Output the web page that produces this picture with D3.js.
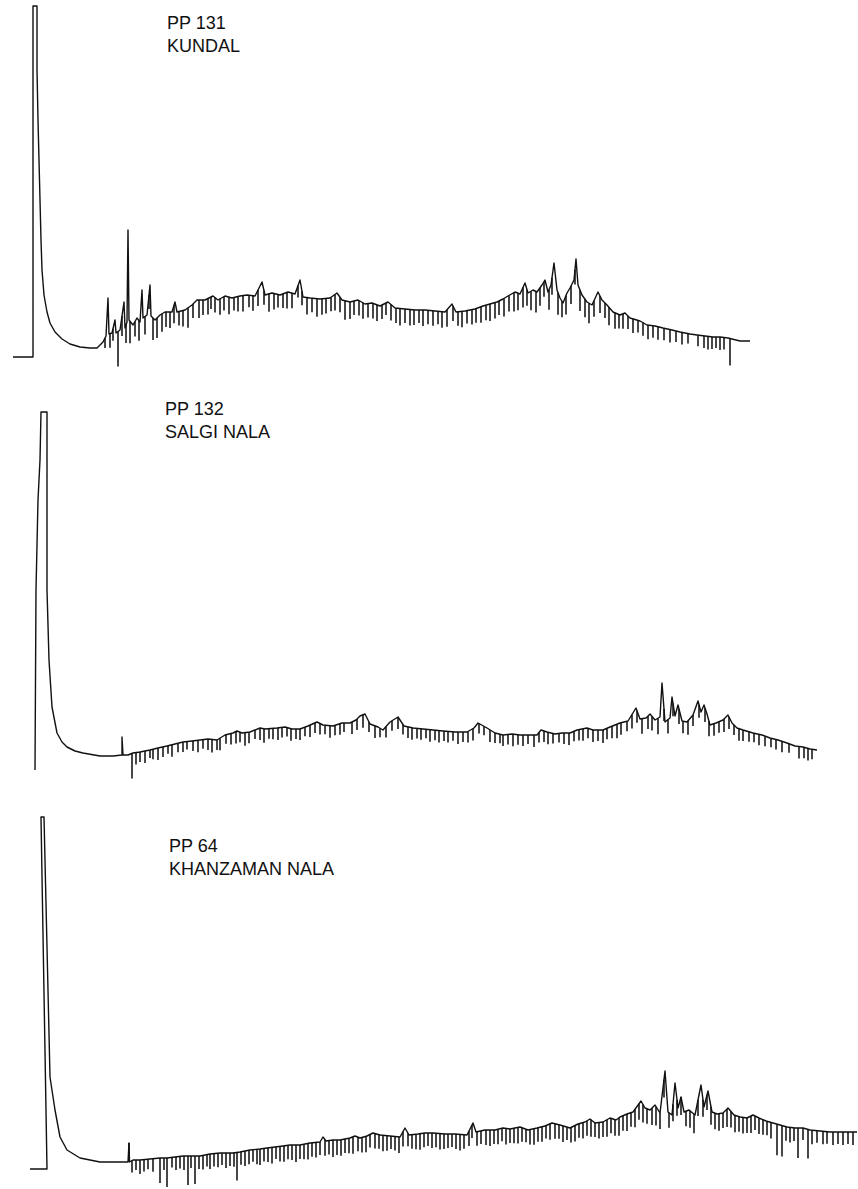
<!DOCTYPE html>
<html>
<head>
<meta charset="utf-8">
<script src="https://cdn.jsdelivr.net/npm/d3@7"></script>
<style>
  body { margin: 0; background: #fff; }
  text { font-family: "Liberation Sans", Arial, sans-serif; }
</style>
</head>
<body>
<script>
// Setup variables
const width = 858;
const height = 1189;

// Sample labels
const sampleCodes = ["PP 131", "PP 132", "PP 64"];
const sampleSites = ["KUNDAL", "SALGI NALA", "KHANZAMAN NALA"];

// Trace of each chromatogram: [retention time (min), detector response]
const trace131 = [
  [1.3,1],[3.3,1],[3.3,352],[3.7,352],[3.7,288],[3.8,238],[3.9,198],[4.0,158],[4.1,118],[4.2,88],
  [4.4,63],[4.7,46],[5.0,35],[5.5,26],[6.2,19],[7.0,14],[8.0,11],[9.0,10],[9.7,10],[10.0,13],
  [10.3,16],[10.6,22],[10.8,60],[10.9,24],[11.2,25],[11.5,38],[11.6,25],[12.0,28],[12.4,56],[12.5,30],
  [12.7,36],[12.8,128],[12.9,38],[13.3,33],[13.7,40],[14.0,36],[14.2,68],[14.3,40],[14.7,43],[15.0,73],
  [15.1,42],[15.5,38],[16.0,43],[16.5,46],[17.2,46],[17.5,56],[17.7,46],[18.5,48],[19.2,53],[19.7,58],
  [20.5,58],[21.3,62],[21.8,58],[22.5,62],[23.2,60],[24.0,62],[24.7,63],[25.5,62],[26.2,76],[26.5,63],
  [27.2,65],[28.0,63],[28.8,66],[29.5,64],[30.0,78],[30.3,61],[31.0,60],[32.0,59],[33.0,60],[33.7,65],
  [34.2,58],[35.0,56],[35.8,58],[36.5,54],[37.2,55],[38.0,52],[38.8,56],[39.5,50],[40.5,49],[41.5,48],
  [42.5,48],[43.5,47],[44.5,46],[45.2,54],[45.6,46],[46.5,47],[47.5,49],[48.3,52],[49.0,54],[49.7,56],
  [50.3,59],[50.8,62],[51.5,66],[52.0,64],[52.5,75],[52.8,65],[53.3,68],[53.7,66],[54.2,73],[54.5,78],
  [54.8,66],[55.1,73],[55.4,95],[55.7,68],[56.0,60],[56.3,55],[56.7,65],[57.0,70],[57.4,78],[57.6,99],
  [57.8,73],[58.2,63],[58.7,56],[59.2,53],[59.8,66],[60.2,58],[60.7,53],[61.3,46],[62.0,43],[62.5,45],
  [63.0,40],[64.0,37],[64.7,33],[65.5,32],[66.3,30],[67.2,28],[68.0,26],[69.0,24],[69.7,23],[70.5,22],
  [71.3,21],[72.0,21],[72.8,20],[73.2,19],[74.0,17],[75.0,17]
];
const trace132 = [
  [3.5,0],[3.6,180],[3.8,270],[4.0,310],[4.1,358],[4.7,358],[4.7,180],[4.9,110],[5.2,63],[5.7,37],
  [6.2,28],[6.7,23],[7.5,19],[8.3,17],[10.0,14],[11.3,14],[12.2,15],[12.2,33],[12.3,15],[12.8,15],
  [13.3,17],[14.0,18],[15.0,20],[15.8,22],[16.7,24],[17.5,26],[18.3,28],[19.2,29],[20.0,30],[20.8,31],
  [21.7,30],[22.5,35],[23.3,37],[23.7,39],[24.2,37],[25.0,38],[26.0,42],[26.5,41],[27.7,42],[28.5,43],
  [29.2,41],[30.0,41],[30.8,44],[31.7,48],[32.3,45],[33.3,44],[34.2,47],[35.0,47],[35.6,50],[36.0,54],
  [36.5,56],[37.0,46],[37.8,43],[38.3,40],[39.0,48],[39.8,53],[40.4,44],[41.3,42],[42.3,41],[43.3,40],
  [44.3,39],[45.5,38],[46.7,38],[47.4,42],[47.8,47],[48.7,42],[49.5,37],[50.3,35],[51.2,36],[52.0,35],
  [53.0,35],[53.7,35],[54.1,40],[54.7,38],[55.5,36],[56.2,37],[57.0,37],[57.7,40],[58.7,42],[59.3,40],
  [60.3,40],[61.0,43],[62.0,47],[62.8,49],[63.6,62],[64.0,51],[64.6,52],[65.0,56],[65.5,50],[66.0,53],
  [66.2,87],[66.5,48],[67.0,52],[67.2,73],[67.5,54],[67.8,65],[68.2,49],[68.7,48],[69.3,55],[69.8,69],
  [70.1,58],[70.4,65],[70.7,56],[71.0,45],[71.6,47],[72.3,50],[72.8,55],[73.2,47],[73.7,42],[74.3,40],
  [75.3,37],[76.2,35],[77.0,32],[77.8,30],[78.7,27],[79.5,24],[80.3,23],[81.0,21],[81.7,20]
];
const trace64 = [
  [3.0,1],[4.2,1],[4.7,1],[4.1,353],[4.4,353],[5.0,93],[5.5,60],[6.0,33],[6.7,20],[8.0,12],
  [10.0,8],[12.8,8],[12.9,27],[12.95,8],[13.3,10],[14.0,10],[15.0,11],[16.0,12],[16.7,12],[17.5,13],
  [18.3,14],[19.2,14],[20.0,14],[21.0,16],[22.0,17],[23.3,17],[24.0,18],[25.0,20],[26.0,21],[26.7,22],
  [27.5,23],[28.3,24],[29.0,25],[30.0,25],[31.0,27],[32.0,28],[32.3,33],[32.6,29],[33.3,30],[34.0,30],
  [35.0,32],[35.5,34],[36.0,32],[36.7,34],[37.3,37],[38.0,35],[39.0,34],[40.0,33],[40.5,42],[40.9,35],
  [41.8,36],[42.5,37],[43.3,37],[44.5,36],[45.5,36],[46.7,35],[47.3,47],[47.6,38],[48.5,40],[49.5,40],
  [50.3,42],[51.0,41],[52.0,43],[52.8,40],[53.7,42],[54.5,44],[55.2,47],[56.0,45],[57.0,42],[57.8,46],
  [58.5,48],[59.0,51],[59.5,47],[60.3,48],[61.0,52],[61.6,50],[62.0,53],[62.7,56],[63.3,58],[64.1,69],
  [64.5,62],[65.0,60],[65.5,65],[66.0,57],[66.5,99],[66.8,58],[67.2,55],[67.5,87],[67.8,62],[68.1,73],
  [68.4,58],[68.9,60],[69.5,55],[70.1,85],[70.4,63],[70.8,79],[71.2,58],[71.7,56],[72.3,57],[72.8,62],
  [73.4,55],[74.0,53],[74.7,52],[75.3,55],[75.9,52],[76.6,49],[77.3,47],[78.0,45],[78.7,43],[79.5,42],
  [80.3,42],[81.0,40],[82.0,39],[83.0,38],[84.0,38],[85.7,38]
];

// Integrator marks hanging below the trace: [retention time (min), mark length]
const marks131 = [
  [10.5,10],[11.0,14],[11.3,12],[11.8,35],[12.2,20],[12.6,18],[13.0,22],[13.5,15],[13.9,20],[14.5,18],
  [14.9,14],[15.3,22],[15.7,20],[16.2,18],[16.6,15],[17.0,16],[17.4,18],[17.9,14],[18.3,16],[18.8,20],
  [19.3,14],[19.9,18],[20.3,15],[20.8,16],[21.1,12],[21.5,15],[22.0,16],[22.4,14],[22.9,17],[23.4,13],
  [23.8,15],[24.3,16],[24.9,12],[25.3,15],[25.8,16],[26.4,14],[26.9,18],[27.4,16],[27.8,13],[28.3,14],
  [28.7,16],[29.2,15],[29.8,12],[30.2,14],[30.7,17],[31.2,14],[31.7,18],[32.2,16],[32.6,15],[33.1,14],
  [33.5,16],[34.0,15],[34.5,19],[35.0,17],[35.4,14],[35.9,15],[36.3,16],[36.8,14],[37.3,15],[37.7,16],
  [38.2,14],[38.6,12],[39.1,16],[39.6,15],[40.0,17],[40.5,14],[41.0,16],[41.4,15],[41.9,13],[42.3,16],
  [42.8,14],[43.3,15],[43.8,13],[44.2,16],[44.7,17],[45.3,15],[45.8,14],[46.2,16],[46.7,13],[47.2,15],
  [47.6,14],[48.1,16],[48.6,15],[49.0,17],[49.5,16],[49.9,14],[50.4,18],[50.9,16],[51.4,19],[51.8,17],
  [52.3,20],[52.7,16],[53.1,19],[53.6,21],[54.0,18],[54.4,15],[54.9,20],[55.2,17],[55.8,22],[56.2,16],
  [56.6,19],[57.1,18],[57.5,15],[58.0,21],[58.5,18],[58.9,20],[59.4,16],[60.0,17],[60.5,15],[60.9,18],
  [61.5,16],[61.9,14],[62.3,15],[62.8,13],[63.3,14],[63.8,12],[64.3,13],[64.8,14],[65.3,12],[65.8,13],
  [66.4,12],[67.0,13],[67.6,11],[68.2,12],[68.8,10],[69.8,11],[70.4,12],[70.8,13],[71.2,12],[71.6,11],
  [72.0,13],[72.4,12],[73.0,27]
];
const marks132 = [
  [13.2,25],[13.6,12],[14.0,10],[14.5,12],[15.0,8],[15.3,10],[15.8,12],[16.3,10],[16.8,8],[17.2,12],
  [17.8,9],[18.3,10],[18.7,8],[19.3,10],[19.8,12],[20.3,9],[20.8,11],[21.2,13],[21.7,10],[22.0,12],
  [22.6,9],[23.1,11],[23.6,12],[24.0,10],[24.5,13],[24.9,11],[25.5,9],[26.0,12],[26.4,14],[26.9,10],
  [27.3,11],[27.8,12],[28.2,10],[28.7,9],[29.1,12],[29.6,10],[30.0,11],[30.5,9],[31.0,12],[31.5,10],
  [32.0,11],[32.5,9],[33.0,12],[33.5,10],[34.0,11],[34.4,9],[35.2,12],[35.7,11],[36.3,13],[36.9,10],
  [37.5,12],[38.0,9],[38.6,11],[39.2,10],[39.8,12],[40.3,10],[40.8,11],[41.2,12],[41.7,10],[42.1,11],
  [42.6,9],[43.0,12],[43.5,10],[43.9,12],[44.4,10],[44.8,11],[45.3,9],[45.8,12],[46.3,10],[46.8,11],
  [47.3,12],[47.9,10],[48.4,9],[49.0,12],[49.5,10],[50.0,9],[50.3,11],[50.8,10],[51.3,12],[51.8,10],
  [52.3,11],[52.8,9],[53.4,12],[53.9,10],[54.4,11],[54.8,12],[55.3,10],[55.9,9],[56.4,11],[56.9,12],
  [57.4,10],[57.9,11],[58.3,12],[58.8,10],[59.3,12],[59.8,11],[60.3,13],[60.7,11],[61.2,12],[61.7,14],
  [62.1,12],[62.7,10],[63.2,14],[63.7,12],[64.2,15],[64.8,13],[65.2,14],[65.8,16],[66.4,12],[66.8,14],
  [67.3,13],[67.9,15],[68.3,12],[68.8,14],[69.3,11],[69.9,13],[70.5,14],[70.9,15],[71.4,12],[71.9,11],
  [72.4,13],[72.9,12],[73.4,10],[73.9,12],[74.3,11],[74.9,10],[75.4,9],[75.9,11],[76.5,10],[77.1,9],
  [77.6,10],[78.2,11],[78.9,9],[79.9,12],[80.4,11],[80.8,12],[81.2,10]
];
const marks64 = [
  [12.9,17],[13.2,12],[13.6,10],[14.0,14],[14.4,12],[14.8,10],[15.3,13],[16.0,25],[16.4,12],[16.7,29],
  [17.2,10],[17.6,13],[18.0,12],[18.4,14],[18.8,29],[19.1,12],[19.5,28],[19.9,13],[20.3,14],[20.7,12],
  [21.0,15],[21.4,13],[21.8,14],[22.2,12],[22.6,15],[23.0,13],[23.4,14],[23.7,28],[24.1,13],[24.5,15],
  [24.9,14],[25.3,12],[25.7,15],[26.0,16],[26.4,13],[26.8,14],[27.2,16],[27.6,12],[28.0,15],[28.4,16],
  [28.8,14],[29.2,15],[29.6,17],[30.0,14],[30.4,15],[30.8,16],[31.2,14],[31.6,15],[32.0,13],[32.5,16],
  [32.9,14],[33.3,17],[33.7,15],[34.1,16],[34.5,14],[34.9,15],[35.3,17],[35.8,14],[36.2,15],[36.6,16],
  [37.0,13],[37.5,15],[37.9,14],[38.3,16],[38.7,15],[39.1,13],[39.5,14],[39.9,16],[40.3,15],[40.8,13],
  [41.2,14],[41.6,15],[42.0,16],[42.4,14],[42.8,13],[43.2,15],[43.6,14],[44.0,16],[44.4,15],[44.8,14],
  [45.2,13],[45.6,15],[46.0,16],[46.4,14],[46.9,15],[47.2,13],[47.7,14],[48.1,13],[48.6,15],[49.0,16],
  [49.4,14],[49.8,15],[50.2,13],[50.6,16],[51.0,14],[51.4,15],[51.8,16],[52.2,14],[52.6,13],[53.0,15],
  [53.4,16],[53.8,14],[54.2,15],[54.6,13],[55.0,16],[55.5,15],[55.9,14],[56.3,16],[56.7,13],[57.1,15],
  [57.5,16],[57.9,14],[58.3,16],[58.7,15],[59.1,17],[59.5,14],[59.9,16],[60.3,15],[60.7,17],[61.1,15],
  [61.5,16],[61.9,18],[62.3,15],[62.7,17],[63.1,14],[63.5,18],[63.9,16],[64.3,18],[64.7,15],[65.2,17],
  [65.6,19],[66.0,16],[66.4,18],[66.9,15],[67.3,17],[67.7,16],[68.1,18],[68.6,15],[69.0,17],[69.4,19],
  [69.8,16],[70.3,17],[70.7,15],[71.1,18],[71.5,16],[71.9,17],[72.3,15],[72.7,18],[73.1,16],[73.5,17],
  [73.9,15],[74.3,16],[74.7,15],[75.1,17],[75.5,14],[75.9,16],[76.3,15],[76.7,14],[77.1,16],[77.7,31],
  [78.2,31],[78.6,14],[79.0,15],[79.4,13],[79.8,30],[80.3,12],[80.8,29],[81.2,14],[81.7,12],[82.3,13],
  [82.7,12],[83.3,13],[83.8,12],[84.3,13],[84.8,12],[85.3,13]
];

const traces = [trace131, trace132, trace64];
const marks = [marks131, marks132, marks64];

// Layout of the three stacked panels (zero line in pixels, label position)
const panelBase = [358, 770, 1170];
const labelX = [167, 165, 169];
const labelY = [29, 415, 852];

const svg = d3.select("body")
      .append("svg")
      .attr("width", width)
      .attr("height", height);

// Retention time axis shared by all panels (not drawn)
const x = d3.scaleLinear().domain([0, 85.8]).range([0, width]);

// Response at a given time
const responseAt = (trace, t) => {
    // only the part after the solvent peak is used
    const tail = trace.filter(d => d[0] > 9);
    const i = d3.bisector(d => d[0]).left(tail, t);
    if (i <= 0) return tail[0][1];
    if (i >= tail.length) return tail[tail.length - 1][1];
    const a = tail[i - 1], b = tail[i];
    return a[1] + (b[1] - a[1]) * (t - a[0]) / (b[0] - a[0]);
};

traces.forEach((trace, k) => {
    const y = d3.scaleLinear().domain([0, 360]).range([panelBase[k], panelBase[k] - 360]);
    const g = svg.append("g").attr("class", "panel");

    // integrator marks
    g.selectAll("line")
        .data(marks[k])
        .join("line")
        .attr("x1", d => x(d[0]))
        .attr("x2", d => x(d[0]))
        .attr("y1", d => y(responseAt(trace, d[0])))
        .attr("y2", d => y(responseAt(trace, d[0]) - d[1]))
        .attr("stroke", "#1a1a1a")
        .attr("stroke-width", 1.6);

    // detector trace
    g.append("path")
        .datum(trace)
        .attr("fill", "none")
        .attr("stroke", "#111")
        .attr("stroke-width", 1.4)
        .attr("stroke-linejoin", "round")
        .attr("d", d3.line().x(d => x(d[0])).y(d => y(d[1])));

    // sample label
    const label = svg.append("text")
        .attr("x", labelX[k])
        .attr("y", labelY[k])
        .attr("font-size", 18)
        .attr("fill", "#111");
    label.append("tspan").attr("x", labelX[k]).text(sampleCodes[k]);
    label.append("tspan").attr("x", labelX[k]).attr("dy", 23).text(sampleSites[k]);
});
</script>
</body>
</html>
